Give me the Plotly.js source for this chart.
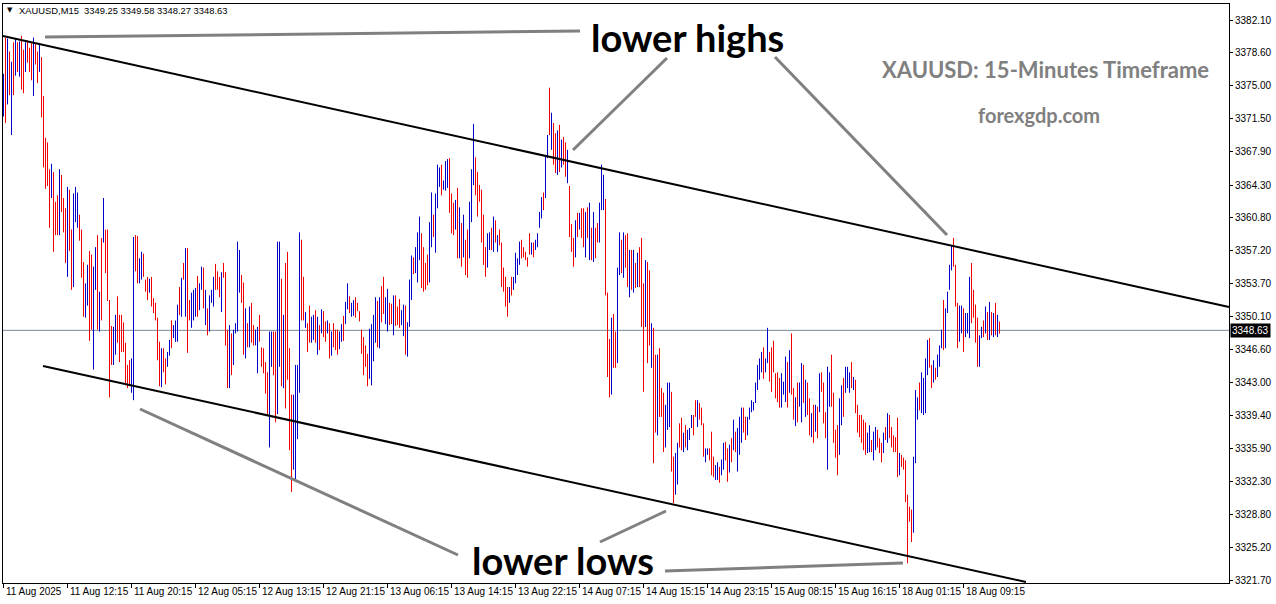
<!DOCTYPE html>
<html><head><meta charset="utf-8">
<script src="https://cdn.plot.ly/plotly-3.0.1.min.js"></script>
<style>html,body{margin:0;padding:0;background:#fff;}#chart{width:1276px;height:604px;}</style>
</head><body><div id="chart"></div>
<script>
// XAUUSD M15 bars (high / low in price, 1 = bullish bar drawn blue, 0 = bearish bar drawn red)
const barHigh = [
3376.3,3380.2,3380.1,3378.7,3377.6,3379.7,3380.1,3379.7,3379.8,3380.4,
3378.9,3379.7,3379.9,3379.1,3379.6,3380.2,3379.5,3378.7,3379.6,3378.1,
3373.9,3369.4,3368.9,3366.0,3366.6,3365.7,3362.5,3363.2,3366.0,3365.4,
3362.9,3361.8,3364.1,3363.8,3359.5,3363.4,3364.1,3363.5,3361.1,3359.5,
3356.0,3353.7,3355.7,3357.2,3356.8,3355.5,3357.6,3358.9,3352.8,3358.6,
3362.9,3359.5,3359.5,3351.9,3349.1,3349.0,3350.3,3352.3,3350.3,3350.3,
3349.5,3347.3,3344.9,3345.4,3345.6,3358.7,3358.9,3358.8,3356.4,3357.1,
3356.9,3354.1,3354.4,3354.2,3354.4,3352.1,3351.6,3350.0,3347.4,3346.7,
3346.7,3345.6,3346.3,3347.6,3349.7,3349.2,3349.7,3351.4,3353.3,3354.3,
3355.9,3357.5,3357.5,3351.9,3352.7,3353.0,3353.2,3354.5,3353.7,3355.5,
3355.4,3353.0,3351.0,3352.4,3353.0,3354.4,3355.8,3355.0,3354.4,3354.9,
3355.9,3354.9,3348.7,3349.2,3348.3,3348.7,3349.4,3358.2,3357.3,3354.6,
3353.8,3351.0,3349.4,3351.2,3351.6,3349.2,3348.7,3349.0,3350.3,3346.8,
3346.7,3345.2,3344.1,3348.5,3348.5,3348.5,3348.5,3358.2,3358.2,3354.2,
3350.3,3355.9,3357.1,3346.7,3341.7,3341.7,3344.9,3344.9,3359.2,3358.4,
3354.4,3350.6,3349.4,3351.3,3350.1,3350.3,3350.8,3350.1,3349.2,3350.9,
3350.7,3349.6,3349.7,3349.4,3348.5,3349.4,3348.7,3348.7,3348.5,3349.3,
3350.2,3351.7,3353.7,3352.3,3351.6,3351.9,3352.2,3351.6,3350.7,3348.7,
3347.9,3347.0,3346.1,3348.8,3349.3,3350.3,3352.2,3351.8,3352.2,3353.4,
3354.4,3352.2,3353.1,3351.6,3351.5,3352.4,3352.4,3351.2,3352.0,3350.8,
3351.4,3351.3,3349.5,3354.1,3356.7,3356.5,3357.6,3359.2,3360.9,3359.1,
3357.6,3355.9,3356.8,3360.3,3363.5,3361.1,3363.4,3366.5,3366.2,3366.5,
3364.8,3366.9,3367.1,3367.2,3363.4,3362.4,3362.7,3364.0,3361.9,3360.2,
3361.1,3358.4,3359.5,3362.5,3366.0,3370.9,3367.3,3365.7,3364.3,3363.8,
3361.1,3357.6,3359.1,3359.2,3359.7,3360.9,3360.5,3358.9,3359.5,3358.1,
3355.4,3354.4,3353.3,3353.3,3354.4,3354.4,3357.0,3356.4,3358.2,3358.4,
3357.6,3357.1,3356.5,3359.1,3358.1,3358.1,3358.4,3359.1,3361.4,3363.0,
3363.5,3367.5,3369.7,3374.8,3372.1,3371.0,3369.9,3370.2,3370.8,3369.2,
3369.5,3368.9,3368.1,3364.2,3360.1,3358.6,3360.5,3361.3,3361.3,3361.8,
3361.8,3361.4,3361.9,3362.4,3359.7,3361.4,3359.7,3360.2,3362.4,3366.5,
3365.4,3362.8,3352.7,3347.7,3350.0,3350.4,3348.5,3355.4,3359.2,3358.4,
3359.2,3358.9,3359.1,3357.3,3357.3,3357.3,3355.9,3357.0,3357.6,3358.6,
3353.7,3356.2,3356.0,3355.1,3349.4,3348.9,3346.0,3346.0,3346.7,3342.4,
3341.9,3340.6,3343.0,3343.0,3342.0,3335.0,3335.4,3336.5,3338.6,3339.2,
3337.6,3338.4,3337.9,3338.1,3339.5,3339.5,3341.1,3341.1,3340.8,3340.3,
3338.6,3335.9,3335.9,3335.9,3337.7,3335.0,3334.1,3334.4,3333.9,3334.7,
3336.5,3336.6,3335.9,3336.3,3337.0,3339.0,3337.7,3338.1,3339.3,3340.3,
3340.3,3339.3,3339.3,3340.3,3341.1,3340.9,3343.0,3344.9,3345.6,3346.3,
3346.8,3345.6,3348.9,3346.3,3346.8,3347.5,3344.0,3344.1,3343.5,3344.0,
3343.1,3345.8,3345.2,3346.5,3348.3,3342.4,3341.4,3343.0,3343.0,3345.1,
3344.9,3343.3,3343.0,3341.3,3339.7,3340.6,3340.6,3340.4,3344.0,3344.1,
3343.0,3339.8,3344.7,3344.1,3346.0,3341.9,3337.9,3338.4,3341.3,3342.7,
3343.5,3344.7,3344.7,3344.1,3345.2,3343.6,3343.3,3340.6,3339.5,3339.5,
3339.0,3338.7,3337.6,3338.4,3336.8,3337.7,3338.2,3337.9,3337.0,3336.5,
3337.6,3338.2,3339.7,3339.5,3338.2,3337.3,3337.1,3339.2,3335.4,3335.2,
3334.9,3334.6,3330.9,3329.6,3329.3,3335.0,3342.2,3341.4,3343.0,3344.1,
3343.5,3345.6,3347.6,3347.8,3344.9,3345.4,3344.6,3346.0,3347.0,3348.7,
3351.9,3351.0,3352.8,3355.7,3357.8,3358.6,3355.7,3351.6,3351.3,3351.3,
3351.0,3350.5,3350.5,3354.4,3355.9,3353.0,3351.4,3350.0,3348.1,3349.0,
3349.7,3351.2,3350.6,3351.7,3350.6,3350.5,3351.6,3350.3,3349.58
];
const barLow = [
3371.7,3371.0,3373.0,3374.0,3369.7,3374.0,3376.1,3376.5,3376.0,3374.6,
3374.2,3376.5,3377.5,3376.5,3375.6,3373.9,3377.3,3375.3,3376.5,3371.6,
3366.2,3363.9,3364.2,3359.7,3362.9,3357.1,3358.9,3358.9,3358.9,3361.4,
3359.2,3355.9,3354.4,3357.2,3353.0,3353.3,3360.3,3359.7,3358.3,3354.3,
3350.1,3350.0,3351.3,3347.5,3348.7,3344.4,3353.0,3348.7,3348.5,3349.7,
3358.1,3354.8,3351.8,3341.4,3344.9,3344.9,3346.0,3347.3,3345.2,3346.3,
3346.3,3342.7,3342.4,3342.6,3341.9,3341.1,3355.0,3353.7,3353.7,3354.1,
3354.4,3352.8,3351.9,3352.7,3351.2,3350.5,3349.7,3345.4,3342.6,3342.5,
3344.1,3342.8,3344.7,3345.9,3346.7,3347.8,3347.4,3347.4,3350.3,3350.1,
3354.1,3350.1,3346.2,3349.7,3348.9,3349.7,3350.1,3350.1,3350.8,3353.0,
3351.0,3349.2,3348.1,3348.5,3351.6,3351.2,3353.0,3353.0,3352.2,3350.6,
3354.3,3347.0,3342.4,3342.4,3343.8,3344.9,3348.3,3348.5,3352.7,3351.6,
3346.0,3345.6,3346.8,3346.8,3347.3,3347.0,3347.0,3344.0,3347.4,3344.7,
3344.0,3341.8,3339.6,3336.0,3344.7,3343.8,3338.7,3339.6,3344.7,3342.6,
3342.4,3340.2,3343.3,3335.7,3331.2,3333.6,3332.5,3336.9,3341.9,3349.7,
3349.7,3348.9,3346.3,3347.3,3347.3,3347.6,3347.3,3346.0,3346.5,3348.3,
3347.9,3347.4,3348.3,3345.6,3345.9,3346.8,3346.5,3346.0,3346.6,3347.4,
3347.5,3349.3,3350.9,3350.5,3350.1,3350.2,3350.0,3350.7,3349.6,3346.1,
3343.8,3344.7,3342.6,3343.4,3342.7,3345.3,3347.3,3346.8,3346.7,3349.5,
3350.4,3349.3,3348.5,3349.2,3349.3,3348.1,3349.1,3349.2,3348.9,3349.2,
3348.0,3346.0,3345.8,3349.0,3351.9,3354.7,3354.8,3353.8,3356.2,3353.2,
3352.8,3353.0,3353.5,3353.8,3357.6,3358.7,3357.0,3361.8,3364.1,3363.2,
3363.8,3363.7,3364.0,3361.3,3359.1,3358.9,3359.5,3356.4,3356.4,3355.5,
3356.5,3354.6,3354.3,3356.4,3360.3,3364.3,3363.2,3360.9,3362.5,3358.1,
3355.7,3354.4,3355.4,3357.3,3357.3,3357.1,3358.1,3357.1,3357.8,3353.3,
3352.8,3351.2,3350.1,3351.6,3352.4,3353.0,3353.7,3354.6,3355.7,3356.4,
3356.5,3356.2,3355.5,3356.8,3356.8,3356.5,3357.3,3357.6,3359.7,3360.7,
3361.6,3362.9,3367.2,3369.7,3368.1,3366.5,3365.6,3365.4,3365.7,3366.2,
3366.5,3365.2,3364.5,3358.7,3357.1,3355.5,3356.5,3358.7,3359.5,3358.6,
3357.6,3356.5,3358.6,3356.2,3356.2,3356.0,3356.4,3358.1,3358.1,3361.6,
3361.6,3352.4,3343.6,3341.4,3341.7,3344.6,3344.6,3345.1,3354.6,3354.8,
3354.3,3355.4,3353.3,3352.2,3353.0,3352.7,3353.2,3353.3,3353.3,3349.0,
3342.0,3349.0,3345.1,3347.0,3344.6,3334.3,3337.6,3337.3,3339.3,3339.3,
3335.5,3336.0,3337.9,3338.2,3333.4,3330.0,3330.9,3332.0,3336.0,3335.7,
3335.5,3336.0,3335.7,3336.8,3338.1,3337.3,3339.3,3338.2,3339.0,3338.4,
3335.0,3334.4,3335.2,3334.6,3333.0,3332.8,3332.5,3332.5,3332.2,3333.0,
3333.6,3334.6,3332.3,3333.3,3334.4,3335.7,3335.5,3333.4,3335.2,3336.5,
3337.6,3336.8,3337.3,3339.0,3339.8,3340.0,3340.8,3342.2,3343.3,3344.1,
3343.4,3344.1,3345.1,3343.1,3342.0,3344.1,3341.3,3340.9,3340.3,3340.3,
3341.7,3340.9,3340.3,3341.9,3341.7,3339.0,3338.3,3338.7,3340.4,3338.7,
3340.8,3339.3,3339.5,3337.3,3337.1,3336.5,3337.7,3337.0,3339.8,3342.0,
3338.6,3337.0,3333.6,3340.4,3340.4,3336.5,3334.9,3333.0,3335.2,3338.4,
3339.3,3341.9,3342.4,3341.9,3342.4,3342.2,3339.7,3337.6,3337.1,3336.5,
3335.7,3335.2,3335.4,3335.5,3335.5,3334.6,3335.7,3336.0,3335.4,3334.4,
3335.4,3336.8,3336.5,3337.0,3336.0,3335.5,3335.5,3332.8,3333.0,3333.9,
3333.6,3330.1,3323.5,3328.0,3325.8,3326.8,3334.3,3339.0,3340.0,3339.7,
3339.5,3339.7,3343.8,3344.6,3342.4,3343.0,3343.3,3343.6,3344.7,3346.7,
3346.5,3346.7,3350.5,3353.0,3355.1,3355.5,3351.2,3346.7,3347.4,3348.3,
3346.3,3347.9,3348.3,3347.8,3349.4,3350.0,3347.3,3344.7,3344.7,3347.8,
3347.9,3348.3,3347.6,3347.6,3348.1,3347.9,3348.1,3347.9,3348.27
];
const barUp = [
1,0,1,0,1,0,1,0,1,0, 0,1,0,0,0,1,0,0,1,0, 0,0,0,0,1,0,0,0,1,0, 0,0,1,0,0,1,1,1,0,0,
0,1,1,0,0,1,1,0,1,0, 1,0,0,0,0,1,1,0,0,0, 0,0,0,0,1,1,0,0,1,1, 0,0,0,1,0,0,0,0,0,1,
0,0,1,1,0,1,1,1,0,1, 0,1,0,0,1,1,1,0,1,1, 0,1,0,1,1,1,0,0,0,1, 0,0,0,1,0,1,1,1,1,0,
0,1,0,1,0,0,1,1,0,0, 0,0,0,1,1,0,0,1,1,0, 1,0,0,0,0,1,1,1,1,0, 0,1,0,0,1,1,0,1,0,1,
0,0,1,0,1,0,0,0,1,1, 0,1,1,0,1,1,0,0,0,0, 0,0,0,1,1,1,1,0,1,0, 0,1,1,0,0,1,0,0,0,1,
1,0,1,1,1,0,1,1,1,0, 0,0,0,1,1,0,1,1,1,0, 1,1,1,0,0,0,1,0,1,0, 1,0,0,1,1,1,0,0,0,0,
0,0,1,1,0,1,0,1,0,0, 0,0,0,1,0,1,1,1,1,0, 0,0,0,0,1,0,1,1,1,1, 0,1,1,0,1,0,0,1,0,1,
0,0,1,0,0,0,1,0,1,0, 0,1,0,1,0,1,0,0,1,1, 1,0,0,0,1,0,0,1,1,0, 1,0,0,1,0,1,0,1,0,0,
0,1,0,0,1,0,0,1,0,0, 0,1,1,1,0,0,1,1,0,0, 1,0,1,1,1,0,0,1,0,0, 0,1,1,0,0,0,1,1,0,1,
1,0,0,1,0,1,0,1,1,1, 0,0,1,1,1,1,1,1,1,1, 0,1,1,0,0,0,0,0,0,1, 1,1,0,1,0,0,1,0,1,1,
0,1,0,0,1,0,1,0,1,0, 0,0,1,1,0,0,0,0,1,1, 0,1,1,1,0,1,0,0,0,0, 0,0,1,1,0,1,1,0,0,0,
1,0,1,0,0,0,0,0,1,0, 0,0,0,0,0,1,1,1,0,1, 1,1,1,0,0,1,0,1,1,1, 0,1,1,1,1,0,0,0,1,1,
0,1,1,1,0,0,0,0,1,1, 0,1,0,1,0,1,0,1,0
];
const timeTickIndex = [0,32,64,96,128,160,192,224,256,288,320,352,384,416,448,480];
const timeTickLabels = ['11 Aug 2025','11 Aug 12:15','11 Aug 20:15','12 Aug 05:15','12 Aug 13:15','12 Aug 21:15',
  '13 Aug 06:15','13 Aug 14:15','13 Aug 22:15','14 Aug 07:15','14 Aug 15:15','14 Aug 23:15',
  '15 Aug 08:15','15 Aug 16:15','18 Aug 01:15','18 Aug 09:15'];
const priceTicks = [3382.10,3378.60,3375.00,3371.50,3367.90,3364.30,3360.80,3357.20,3353.70,3350.10,
  3346.60,3343.00,3339.40,3335.90,3332.30,3328.80,3325.20,3321.70];
const lastPrice = 3348.63;
const headerText = 'XAUUSD,M15  3349.25 3349.58 3348.27 3348.63';

function segs(up) {
  const x = [], y = [];
  for (let i = 0; i < barHigh.length; i++) {
    if ((barUp[i] === 1) === up) { x.push(i, i, null); y.push(barLow[i], barHigh[i], null); }
  }
  return {x, y};
}
const upS = segs(true), dnS = segs(false);
const traces = [
  {type:'scatter', mode:'lines', x:dnS.x, y:dnS.y, line:{color:'#f00000', width:1}, hoverinfo:'skip', connectgaps:false, showlegend:false},
  {type:'scatter', mode:'lines', x:upS.x, y:upS.y, line:{color:'#0000c8', width:1}, hoverinfo:'skip', connectgaps:false, showlegend:false}
];

// pixel -> paper helpers for decorative drawing
const PL = 3, PR = 1229, PT = 4, PB = 583;
const px = v => (v - PL) / (PR - PL);
const py = v => (PB - v) / (PB - PT);
function gline(x0, y0, x1, y1, color, w) {
  return {type:'line', xref:'paper', yref:'paper', x0:px(x0), y0:py(y0), x1:px(x1), y1:py(y1), line:{color:color, width:w}};
}
const shapes = [
  {type:'line', xref:'paper', yref:'y', x0:0, x1:1, y0:lastPrice, y1:lastPrice, line:{color:'#778899', width:1}, layer:'below'},
  gline(3, 36, 1229, 307, '#000000', 2),
  gline(43, 366, 1026, 582, '#000000', 2),
  gline(45, 37, 580, 31, '#808080', 3),
  gline(573, 150, 667, 58, '#808080', 3),
  gline(775, 57, 947, 235, '#808080', 3),
  gline(140, 409, 458, 555, '#808080', 3),
  gline(600, 542, 666, 511, '#808080', 3),
  gline(665, 571, 903, 563, '#808080', 3)
];

const annotations = [];
timeTickIndex.forEach((ix, k) => {
  annotations.push({xref:'x', yref:'paper', x:ix, y:0, xanchor:'left', yanchor:'top', xshift:0, yshift:-1,
    text:timeTickLabels[k], showarrow:false, font:{family:'Liberation Sans, Arial, sans-serif', size:10, color:'#000'}});
});
annotations.push({xref:'paper', yref:'y', x:1, y:lastPrice, xanchor:'left', yanchor:'middle', xshift:1,
  text:lastPrice.toFixed(2), showarrow:false, bgcolor:'#000', borderpad:1,
  font:{family:'Liberation Sans, Arial, sans-serif', size:10, color:'#fff'}});
annotations.push({xref:'paper', yref:'paper', x:px(5), y:py(10), xanchor:'left', yanchor:'middle',
  text:'▼', showarrow:false, font:{family:'DejaVu Sans', size:7, color:'#000'}});
annotations.push({xref:'paper', yref:'paper', x:px(17), y:py(10), xanchor:'left', yanchor:'middle',
  text:headerText.replace('  ', '&nbsp; '), showarrow:false, font:{family:'Liberation Sans, Arial, sans-serif', size:9.4, color:'#000'}});
annotations.push({xref:'paper', yref:'paper', x:px(688), y:py(37), xanchor:'center', yanchor:'middle',
  text:'<b>lower highs</b>', showarrow:false, font:{family:'Lato, sans-serif', size:38, color:'#000'}});
annotations.push({xref:'paper', yref:'paper', x:px(563), y:py(560), xanchor:'center', yanchor:'middle',
  text:'<b>lower lows</b>', showarrow:false, font:{family:'Lato, sans-serif', size:38, color:'#000'}});
annotations.push({xref:'paper', yref:'paper', x:px(1045), y:py(70), xanchor:'center', yanchor:'middle',
  text:'<b>XAUUSD: 15-Minutes Timeframe</b>', showarrow:false, font:{family:'Lato, sans-serif', size:22, color:'#808080'}});
annotations.push({xref:'paper', yref:'paper', x:px(1039), y:py(115), xanchor:'center', yanchor:'middle',
  text:'<b>forexgdp.com</b>', showarrow:false, font:{family:'Lato, sans-serif', size:20, color:'#808080'}});

const layout = {
  width:1276, height:604,
  margin:{l:PL, r:1276-PR, t:PT, b:604-PB, pad:0},
  paper_bgcolor:'#fff', plot_bgcolor:'#fff',
  showlegend:false,
  xaxis:{range:[-0.25, 612.75], showgrid:false, zeroline:false, showline:true, linecolor:'#000', linewidth:1, mirror:true,
    ticks:'outside', ticklen:4, tickcolor:'#000', tickwidth:1, tickvals:timeTickIndex, showticklabels:false, fixedrange:true},
  yaxis:{side:'right', range:[3321.38, 3383.83], showgrid:false, zeroline:false, showline:true, linecolor:'#000', linewidth:1, mirror:true,
    ticks:'outside', ticklen:3, tickcolor:'#000', tickwidth:1, tickvals:priceTicks, ticktext:priceTicks.map(v => v.toFixed(2)),
    tickfont:{family:'Liberation Sans, Arial, sans-serif', size:10, color:'#000'}, fixedrange:true},
  shapes:shapes,
  annotations:annotations
};
Plotly.newPlot('chart', traces, layout, {displayModeBar:false, staticPlot:true});
</script>
</body></html>
